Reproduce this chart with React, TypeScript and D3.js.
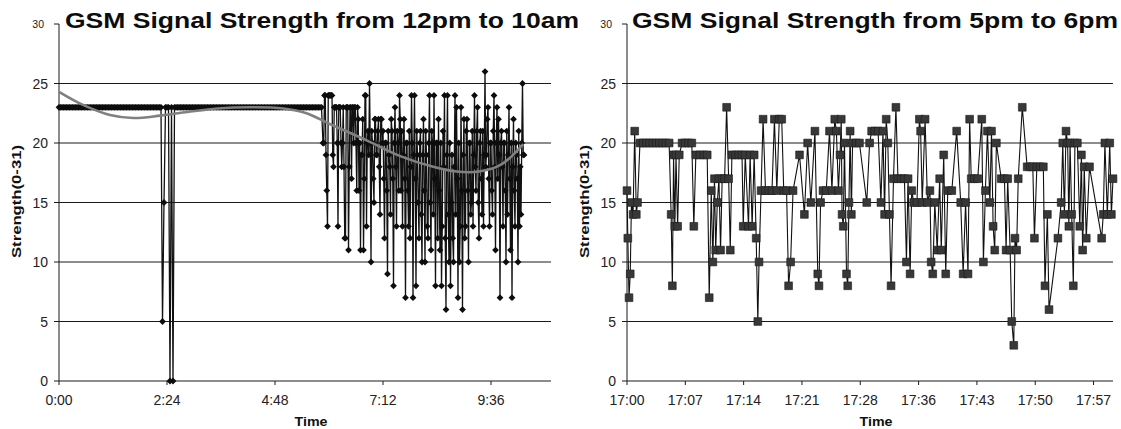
import React from "react";
import * as d3 from "d3";

// Chart data
const yTicks = [0, 5, 10, 15, 20, 25, 30];

const leftTitle = "GSM Signal Strength from 12pm to 10am";
const leftTickMinutes = [0, 144, 288, 432, 576];
const leftTickLabels = ["0:00", "2:24", "4:48", "7:12", "9:36"];

// steady phase: one reading every two minutes from 0:00
const leftEarlyStep = 2;
const leftEarlyValues = [
  23, 23, 23, 23, 23, 23, 23, 23, 23, 23, 23, 23, 23, 23, 23, 23, 23, 23, 23, 23,
  23, 23, 23, 23, 23, 23, 23, 23, 23, 23, 23, 23, 23, 23, 23, 23, 23, 23, 23, 23,
  23, 23, 23, 23, 23, 23, 23, 23, 23, 23, 23, 23, 23, 23, 23, 23, 23, 23, 23, 23,
  23, 23, 23, 23, 23, 23, 23, 23, 23, 5, 15, 23, 23, 23, 0, 23, 0, 23, 23, 23,
  23, 23, 23, 23, 23, 23, 23, 23, 23, 23, 23, 23, 23, 23, 23, 23, 23, 23, 23, 23,
  23, 23, 23, 23, 23, 23, 23, 23, 23, 23, 23, 23, 23, 23, 23, 23, 23, 23, 23, 23,
  23, 23, 23, 23, 23, 23, 23, 23, 23, 23, 23, 23, 23, 23, 23, 23, 23, 23, 23, 23,
  23, 23, 23, 23, 23, 23, 23, 23, 23, 23, 23, 23, 23, 23, 23, 23, 23, 23, 23, 23,
  23, 23, 23, 23, 23, 23, 23, 23, 23, 23, 23, 23, 23, 23, 23, 23,
];
// busy phase: one reading a minute from 5:52
const leftLateStart = 352;
const leftLateStep = 1;
const leftLateValues = [
  20, 20, 24, 24, 19, 16, 13, 24, 24, 24, 24, 24, 24, 19, 18, 23,
  23, 23, 23, 20, 13, 23, 23, 23, 20, 18, 20, 23, 18, 12, 12, 23, 23, 23, 11, 18, 23, 23,
  17, 23, 23, 20, 23, 23, 20, 16, 23, 22, 16, 20, 11, 19, 19, 22, 11, 17, 24, 24, 13, 20,
  21, 19, 25, 20, 10, 21, 20, 17, 15, 22, 22, 19, 19, 21, 22, 18, 14, 22, 22, 20, 21, 17,
  12, 20, 20, 16, 9, 21, 19, 18, 14, 22, 21, 17, 8, 20, 23, 18, 13, 21, 20, 16, 24, 22,
  16, 21, 13, 19, 22, 17, 7, 20, 20, 16, 13, 21, 12, 18, 24, 20, 7, 19, 24, 17, 8, 21,
  19, 15, 12, 20, 21, 14, 10, 19, 22, 16, 10, 21, 19, 13, 12, 20, 24, 15, 11, 21, 20, 14,
  24, 17, 8, 20, 20, 12, 22, 16, 11, 20, 8, 13, 21, 18, 24, 12, 6, 19, 24, 14, 10, 20,
  8, 15, 19, 12, 10, 18, 24, 14, 23, 17, 7, 20, 10, 13, 23, 16, 6, 19, 22, 12, 13, 21,
  22, 16, 10, 20, 20, 14, 15, 21, 13, 19, 24, 18, 16, 21, 23, 15, 12, 20, 21, 17, 14, 21,
  13, 19, 26, 18, 19, 22, 23, 17, 13, 20, 20, 16, 14, 21, 24, 18, 11, 20, 23, 17, 22, 19,
  7, 20, 21, 18, 13, 20, 20, 16, 10, 21, 14, 19, 23, 17, 11, 20, 7, 18, 22, 16, 13, 20,
  19, 17, 10, 21, 13, 18, 14, 20, 25, 19, 19,
];
// grey trend line
const trendMinutes = [0, 32, 68, 99, 135, 171, 211, 255, 299, 330, 361, 411, 455, 499, 530, 560, 590, 619];
const trendValues = [24.3, 23.2, 22.35, 22.1, 22.3, 22.6, 22.9, 23.0, 22.9, 22.5, 21.6, 20.2, 18.9, 18.0, 17.6, 17.6, 18.2, 19.9];

const rightTitle = "GSM Signal Strength from 5pm to 6pm";
const rightTickMinutes = [0, 7.2, 14.4, 21.6, 28.8, 36, 43.2, 50.4, 57.6];
const rightTickLabels = ["17:00", "17:07", "17:14", "17:21", "17:28", "17:36", "17:43", "17:50", "17:57"];
// minutes after 17:00
const rightMinutes = [
  0, 0.1, 0.25, 0.4, 0.55, 0.75, 0.95, 1.15, 1.3, 1.6, 2, 2.4, 2.8, 3.2, 3.6, 4, 4.4, 4.8, 5.2, 5.45,
  5.6, 5.75, 5.9, 6.05, 6.25, 6.45, 6.8, 7.2, 7.6, 8, 8.25, 8.5, 9, 9.5, 9.9, 10.15, 10.4, 10.6, 10.8, 10.95,
  11.15, 11.35, 11.55, 11.75, 12.05, 12.3, 12.55, 12.75, 12.95, 13.4, 13.8, 14.2, 14.35, 14.6, 15, 15.2, 15.45, 15.7, 15.95, 16.15,
  16.3, 16.55, 16.8, 17.1, 17.5, 17.9, 18.2, 18.5, 18.8, 19.1, 19.35, 19.7, 19.95, 20.2, 20.5, 21.3, 21.9, 22.3, 22.7, 23.2,
  23.55, 23.7, 23.9, 24.2, 24.6, 25, 25.3, 25.65, 25.85, 26.1, 26.3, 26.45, 26.55, 26.7, 26.85, 27.1, 27.25, 27.4, 27.55, 27.7,
  27.85, 28.3, 28.7, 29.6, 29.95, 30.2, 30.6, 31, 31.35, 31.6, 31.8, 32, 32.2, 32.4, 32.6, 32.9, 33.2, 33.45, 33.85, 34.25,
  34.5, 34.7, 34.95, 35.15, 35.4, 35.8, 36.1, 36.25, 36.45, 36.8, 37.1, 37.4, 37.55, 37.75, 38, 38.3, 38.6, 38.8, 39.1, 39.35,
  39.6, 40.1, 40.7, 41.2, 41.5, 41.8, 42.1, 42.3, 42.5, 42.9, 43.3, 43.8, 44, 44.25, 44.5, 44.8, 45, 45.2, 45.4, 45.6,
  46.2, 46.6, 46.8, 47, 47.3, 47.5, 47.75, 47.9, 48.1, 48.3, 48.8, 49.4, 49.8, 50.1, 50.3, 50.6, 51, 51.4, 51.6, 51.9,
  52.1, 53.2, 53.6, 53.8, 54, 54.2, 54.4, 54.55, 54.7, 54.9, 55.1, 55.3, 55.6, 55.9, 56.1, 56.25, 56.45, 56.7, 57.1, 58.6,
  58.8, 59, 59.3, 59.6, 59.8, 60,
];
const rightValues = [
  16, 12, 7, 9, 15, 14, 21, 14, 15, 20, 20, 20, 20, 20, 20, 20, 20, 20, 20, 14,
  8, 19, 13, 19, 13, 19, 20, 20, 20, 20, 13, 19, 19, 19, 19, 7, 16, 10, 17, 11,
  15, 17, 11, 17, 17, 23, 17, 11, 19, 19, 19, 19, 13, 19, 13, 19, 13, 19, 12, 5,
  10, 16, 22, 16, 16, 16, 22, 16, 22, 22, 16, 16, 8, 10, 16, 19, 14, 20, 15, 21,
  9, 8, 15, 16, 16, 21, 16, 22, 21, 16, 19, 22, 14, 13, 20, 9, 8, 15, 21, 14,
  20, 20, 20, 15, 20, 21, 21, 21, 15, 21, 14, 22, 20, 14, 8, 17, 23, 17, 17, 17,
  10, 17, 9, 16, 15, 15, 22, 21, 15, 22, 15, 16, 10, 9, 15, 11, 17, 11, 19, 9,
  16, 16, 21, 15, 9, 15, 9, 22, 17, 17, 17, 22, 10, 16, 21, 15, 21, 13, 11, 20,
  17, 17, 11, 17, 11, 5, 3, 12, 11, 17, 23, 18, 18, 18, 12, 18, 18, 18, 8, 14,
  6, 12, 15, 20, 14, 21, 20, 13, 20, 14, 8, 20, 20, 13, 19, 11, 18, 12, 18, 12,
  14, 20, 14, 20, 14, 17,
];

const FONT = "'Liberation Sans', Arial, sans-serif";
const W = 1121;
const H = 429;

type Pt = { t: number; v: number };

function Panel(props: {
  x: d3.ScaleLinear<number, number>;
  title: string;
  titleX: number;
  titleLen: number;
  yTitleX: number;
  tickMinutes: number[];
  tickLabels: string[];
  points: Pt[];
  marker: "diamond" | "square";
  trend?: Pt[];
}) {
  const { x, points, trend } = props;
  const y = d3.scaleLinear().domain([0, 30]).range([381, 24]);
  const [x0, x1] = x.range();
  const line = d3
    .line<Pt>()
    .x((d) => x(d.t))
    .y((d) => y(d.v));
  const trendLine = d3
    .line<Pt>()
    .x((d) => x(d.t))
    .y((d) => y(d.v))
    .curve(d3.curveCatmullRom.alpha(0.5));
  const diamond = props.marker === "diamond";
  const symbol = diamond ? d3.symbol(d3.symbolSquare, 23)() : d3.symbol(d3.symbolSquare, 60)();
  const midX = (x0 + x1) / 2;

  return (
    <g>
      {/* gridlines */}
      {yTicks
        .filter((t) => t > 0 && t < 30)
        .map((t) => (
          <line key={t} x1={x0} x2={x1} y1={y(t)} y2={y(t)} stroke="#1a1a1a" strokeWidth={1} />
        ))}
      {/* axes */}
      <line x1={x0} x2={x0} y1={y(30)} y2={y(0)} stroke="#1a1a1a" />
      <line x1={x0} x2={x1} y1={y(0)} y2={y(0)} stroke="#1a1a1a" />
      {yTicks.map((t) => (
        <g key={t}>
          <line x1={x0 - 5} x2={x0} y1={y(t)} y2={y(t)} stroke="#1a1a1a" />
          <text
            x={t === 30 ? x0 - 15 : x0 - 11}
            y={y(t)}
            dy="0.36em"
            textAnchor="end"
            fontSize={t === 30 ? 10.5 : 14}
            fill="#222"
          >
            {t}
          </text>
        </g>
      ))}
      {props.tickMinutes.map((m, i) => (
        <g key={m}>
          <line x1={x(m)} x2={x(m)} y1={y(0)} y2={y(0) + 4} stroke="#1a1a1a" />
          <text x={x(m)} y={405} textAnchor="middle" fontSize={14} fill="#222">
            {props.tickLabels[i]}
          </text>
        </g>
      ))}

      {/* series */}
      <path
        d={line(points) || undefined}
        fill="none"
        stroke="#111"
        strokeWidth={diamond ? 1.3 : 1.1}
      />
      {points.map((d, i) => (
        <path
          key={i}
          d={symbol || undefined}
          transform={`translate(${x(d.t)},${y(d.v)})${diamond ? " rotate(45)" : ""}`}
          fill={diamond ? "#0d0d0d" : "#383838"}
          stroke={diamond ? "none" : "#1a1a1a"}
          strokeWidth={0.6}
        />
      ))}
      {trend && (
        <path d={trendLine(trend) || undefined} fill="none" stroke="#808080" strokeWidth={2.6} />
      )}

      {/* titles */}
      <text
        x={props.titleX}
        y={28}
        fontSize={22}
        fontWeight="bold"
        fill="#0d0d0d"
        textLength={props.titleLen}
        lengthAdjust="spacingAndGlyphs"
      >
        {props.title}
      </text>
      <text
        x={midX + 6}
        y={426}
        textAnchor="middle"
        fontSize={12}
        fontWeight="bold"
        fill="#111"
        textLength={33}
        lengthAdjust="spacingAndGlyphs"
      >
        Time
      </text>
      <text
        transform={`translate(${props.yTitleX},${201.5}) rotate(-90)`}
        textAnchor="middle"
        fontSize={12}
        fontWeight="bold"
        fill="#111"
        textLength={113}
        lengthAdjust="spacingAndGlyphs"
      >
        Strength(0-31)
      </text>
    </g>
  );
}

export default function App() {
  const leftX = d3.scaleLinear().domain([0, 656]).range([59, 551]);
  const rightX = d3.scaleLinear().domain([0, 60]).range([627, 1113]);

  const leftPoints: Pt[] = [
    ...leftEarlyValues.map((v, i) => ({ t: i * leftEarlyStep, v })),
    ...leftLateValues.map((v, i) => ({ t: leftLateStart + i * leftLateStep, v })),
  ];
  const trend: Pt[] = trendMinutes.map((t, i) => ({ t, v: trendValues[i] }));
  const rightPoints: Pt[] = rightMinutes.map((t, i) => ({ t, v: rightValues[i] }));

  return (
    <div style={{ position: "absolute", left: 0, top: 0, background: "#fff" }}>
      <svg width={W} height={H} fontFamily={FONT} style={{ display: "block", background: "#fff" }}>
        <Panel
          x={leftX}
          title={leftTitle}
          titleX={65}
          titleLen={514}
          yTitleX={20.5}
          tickMinutes={leftTickMinutes}
          tickLabels={leftTickLabels}
          points={leftPoints}
          marker="diamond"
          trend={trend}
        />
        <Panel
          x={rightX}
          title={rightTitle}
          titleX={632}
          titleLen={486}
          yTitleX={589}
          tickMinutes={rightTickMinutes}
          tickLabels={rightTickLabels}
          points={rightPoints}
          marker="square"
        />
      </svg>
    </div>
  );
}
